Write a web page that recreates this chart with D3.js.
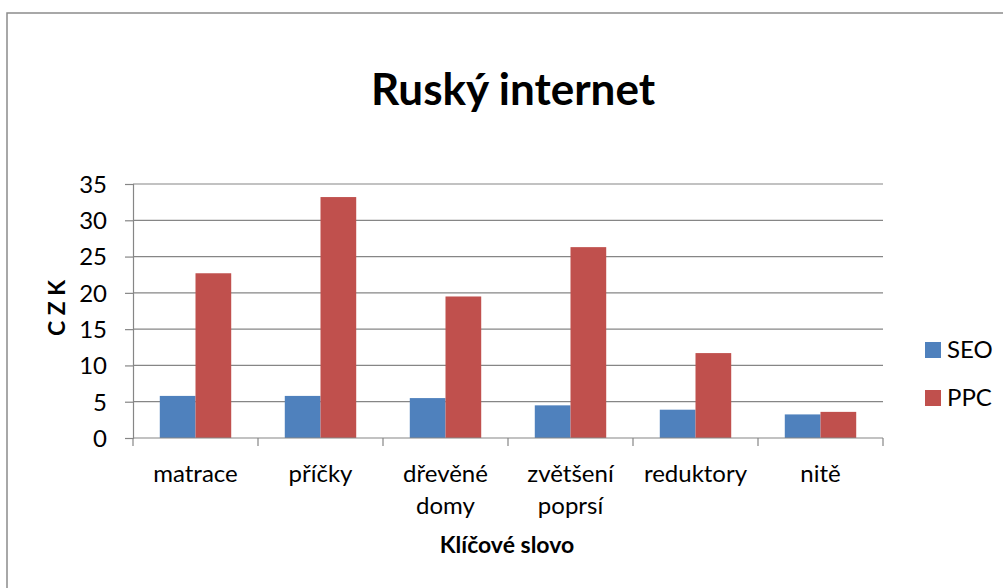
<!DOCTYPE html>
<html>
<head>
<meta charset="utf-8">
<script src="https://cdn.jsdelivr.net/npm/d3@7"></script>
<style>
  html, body { margin: 0; padding: 0; background: #fff; }
  svg { display: block; }
  text { font-family: Lato, "Open Sans", sans-serif; fill: #000; }
</style>
</head>
<body>
<svg id="chart" width="1003" height="588"></svg>
<script>
const categories = ["matrace", "příčky", "dřevěné domy", "zvětšení poprsí", "reduktory", "nitě"];
const seriesNames = ["SEO", "PPC"];
const seoValues = [5.8, 5.8, 5.5, 4.5, 3.9, 3.25];
const ppcValues = [22.7, 33.2, 19.5, 26.3, 11.7, 3.6];
const yTicks = [0, 5, 10, 15, 20, 25, 30, 35];
const seriesColors = ["#4F81BD", "#C0504D"];

const values = { SEO: seoValues, PPC: ppcValues };

const svg = d3.select("#chart");
const W = 1003, H = 588;
const plot = { left: 133, right: 883, top: 184, bottom: 438 };
const axisColor = "#868686";

// outer chart border
svg.append("rect")
  .attr("x", 7).attr("y", 13)
  .attr("width", W + 20).attr("height", H + 20)
  .attr("fill", "#fff")
  .attr("stroke", "#8c8c8c").attr("stroke-width", 1.5);

const x = d3.scaleBand().domain(categories).range([plot.left, plot.right]).paddingInner(0).paddingOuter(0);
const xs = d3.scaleBand().domain(seriesNames).range([0, x.bandwidth()]).paddingInner(0).paddingOuter(0.75);
const y = d3.scaleLinear().domain([0, 35]).range([plot.bottom, plot.top]);
const color = d3.scaleOrdinal().domain(seriesNames).range(seriesColors);

// gridlines
svg.append("g")
  .selectAll("line")
  .data(yTicks.filter(d => d !== 0))
  .join("line")
  .attr("x1", plot.left).attr("x2", plot.right)
  .attr("y1", d => y(d)).attr("y2", d => y(d))
  .attr("stroke", axisColor).attr("stroke-width", 1.2);

// bars
const groups = svg.append("g")
  .selectAll("g")
  .data(categories)
  .join("g")
  .attr("transform", d => `translate(${x(d)},0)`);

groups.selectAll("rect")
  .data((c, i) => seriesNames.map(s => ({ s, v: values[s][i] })))
  .join("rect")
  .attr("x", d => xs(d.s))
  .attr("width", xs.bandwidth())
  .attr("y", d => y(d.v))
  .attr("height", d => y(0) - y(d.v))
  .attr("fill", d => color(d.s));

// y axis
const yAxis = d3.axisLeft(y).tickValues(yTicks).tickSize(8).tickPadding(18).tickFormat(d3.format("d"));
const gy = svg.append("g").attr("transform", `translate(${plot.left},0)`).call(yAxis);
gy.select(".domain").attr("stroke", axisColor).attr("stroke-width", 1.2);
gy.selectAll(".tick line").attr("stroke", axisColor).attr("stroke-width", 1.2);
gy.selectAll(".tick text")
  .style("font-family", "Lato, sans-serif")
  .style("font-size", "24px")
  .attr("fill", "#000")
  .attr("dy", "0.35em");

// x axis line and boundary ticks
svg.append("line")
  .attr("x1", plot.left).attr("x2", plot.right)
  .attr("y1", plot.bottom).attr("y2", plot.bottom)
  .attr("stroke", axisColor).attr("stroke-width", 1.2);
const bounds = categories.map(c => x(c)).concat([plot.right]);
svg.append("g").selectAll("line")
  .data(bounds)
  .join("line")
  .attr("x1", d => d).attr("x2", d => d)
  .attr("y1", plot.bottom).attr("y2", plot.bottom + 8)
  .attr("stroke", axisColor).attr("stroke-width", 1.2);

// category labels
const catLabels = svg.append("g").selectAll("text")
  .data(categories)
  .join("text")
  .attr("text-anchor", "middle")
  .style("font-size", "24px");
catLabels.each(function(d) {
  const t = d3.select(this);
  const cx = x(d) + x.bandwidth() / 2;
  d.split(" ").forEach((w, i) => {
    t.append("tspan").attr("x", cx).attr("y", 482 + i * 32).text(w);
  });
});

// title
svg.append("text")
  .attr("x", 513).attr("y", 105)
  .attr("text-anchor", "middle")
  .style("font-size", "44px").style("font-weight", "bold")
  .text("Ruský internet");

// x axis title
svg.append("text")
  .attr("x", 507).attr("y", 553)
  .attr("text-anchor", "middle")
  .style("font-size", "23px").style("font-weight", "bold")
  .text("Klíčové slovo");

// y axis title
svg.append("text")
  .attr("transform", "translate(65,308) rotate(-90)")
  .attr("text-anchor", "middle")
  .style("font-size", "23px").style("font-weight", "bold")
  .text("C Z K");

// legend
const legend = svg.append("g").selectAll("g")
  .data(seriesNames)
  .join("g")
  .attr("transform", (d, i) => `translate(925,${342 + i * 48})`);
legend.append("rect").attr("width", 16).attr("height", 16).attr("fill", d => color(d));
legend.append("text").attr("x", 22).attr("y", 8).attr("dy", "0.35em")
  .style("font-size", "24px").text(d => d);
</script>
</body>
</html>
